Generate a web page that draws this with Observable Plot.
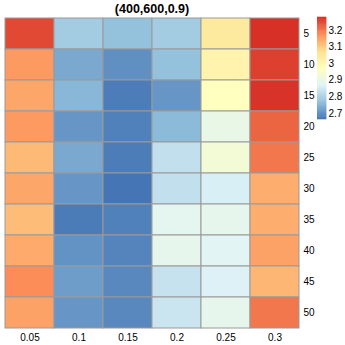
<!DOCTYPE html>
<html>
<head>
<meta charset="utf-8">
<script src="https://cdn.jsdelivr.net/npm/d3@7"></script>
<script src="https://cdn.jsdelivr.net/npm/@observablehq/plot@0.6"></script>
<style>
  html, body { margin: 0; padding: 0; background: #fff; }
  #wrap { position: relative; width: 345px; height: 345px; overflow: hidden; }
  #wrap > svg { position: absolute; }
</style>
</head>
<body>
<div id="wrap"></div>
<script>
const title = "(400,600,0.9)";
const cols = ["0.05", "0.1", "0.15", "0.2", "0.25", "0.3"];
const rows = ["5", "10", "15", "20", "25", "30", "35", "40", "45", "50"];
const row5  = [3.25, 2.79, 2.77, 2.79, 3.04, 3.278];
const row10 = [3.16, 2.735, 2.70, 2.77, 3.01, 3.26];
const row15 = [3.145, 2.755, 2.675, 2.71, 2.97, 3.275];
const row20 = [3.16, 2.71, 2.68, 2.76, 2.90, 3.22];
const row25 = [3.12, 2.735, 2.675, 2.83, 2.93, 3.20];
const row30 = [3.145, 2.71, 2.664, 2.83, 2.86, 3.135];
const row35 = [3.118, 2.674, 2.68, 2.885, 2.89, 3.135];
const row40 = [3.14, 2.705, 2.685, 2.89, 2.875, 3.15];
const row45 = [3.176, 2.72, 2.69, 2.835, 2.865, 3.125];
const row50 = [3.15, 2.71, 2.69, 2.84, 2.89, 3.20];
const legendTicks = [2.7, 2.8, 2.9, 3, 3.1, 3.2];
const palette = ["#4575b4", "#91bfdb", "#e0f3f8", "#ffffbf", "#fee090", "#fc8d59", "#d73027"];

const matrix = [row5, row10, row15, row20, row25, row30, row35, row40, row45, row50];
const data = [];
matrix.forEach((r, i) => r.forEach((v, j) => data.push({row: rows[i], col: cols[j], value: v})));
const [lo, hi] = d3.extent(data, d => d.value);
const colorScale = {
  type: "linear",
  domain: palette.map((_, i) => lo + i * (hi - lo) / (palette.length - 1)),
  range: palette,
  interpolate: "rgb"
};
const font = "'Liberation Sans', Arial, sans-serif";

const main = Plot.plot({
  width: 345, height: 345,
  marginLeft: 3, marginRight: 45, marginTop: 17, marginBottom: 17,
  style: {fontFamily: font, fontSize: "10px", color: "#000", background: "transparent"},
  x: {domain: cols, padding: 0, axis: "bottom", tickSize: 0, tickPadding: 5, label: null},
  y: {domain: rows, padding: 0, axis: "right", tickSize: 0, tickPadding: 3, label: null},
  color: colorScale,
  marks: [
    Plot.cell(data, {x: "col", y: "row", fill: "value", stroke: "#9a9a9a", strokeWidth: 1, inset: 0}),
    Plot.text([title], {frameAnchor: "top", dy: -8.5, text: d => d, fontWeight: "bold", fontSize: 12.5, lineAnchor: "middle", fill: "#000"})
  ]
});
main.style.left = "0px"; main.style.top = "0px";

const n = 120;
const steps = d3.range(n).map(i => {
  const a = lo + i * (hi - lo) / n, b = lo + (i + 1) * (hi - lo) / n;
  return {a, b, v: (a + b) / 2};
});
const legend = Plot.plot({
  width: 37, height: 112,
  marginLeft: 0, marginRight: 28, marginTop: 5, marginBottom: 5,
  style: {fontFamily: font, fontSize: "10px", color: "#000", background: "transparent"},
  x: {domain: [0, 1], axis: null},
  y: {domain: [lo, hi], axis: "right", ticks: legendTicks, tickFormat: d => String(d), tickSize: 0, tickPadding: 2, label: null},
  color: colorScale,
  marks: [
    Plot.rect(steps, {x1: 0, x2: 1, y1: "a", y2: "b", fill: "v", stroke: "v", strokeWidth: 0.6})
  ]
});
legend.style.left = "317px"; legend.style.top = "12px";

const wrap = document.getElementById("wrap");
wrap.appendChild(main);
wrap.appendChild(legend);
</script>
</body>
</html>
